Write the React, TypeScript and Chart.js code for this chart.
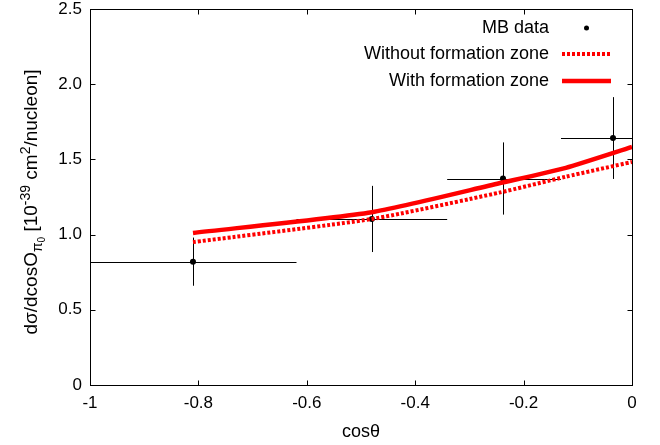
import React, { useEffect, useRef } from "react";
import { Chart, registerables } from "chart.js";

Chart.register(...registerables);

// ---- data ----
const mbX = [-0.81, -0.48, -0.238, -0.035];
const mbY = [0.82, 1.104, 1.373, 1.642];
const mbYErr = [0.16, 0.22, 0.24, 0.272];
const mbXLow = [-1, -0.619, -0.341, -0.131];
const mbXHigh = [-0.619, -0.341, -0.131, 0];

const withX = [-0.81, -0.48, -0.245, -0.122, 0];
const withY = [1.011, 1.149, 1.341, 1.444, 1.583];

const withoutX = [-0.81, -0.48, -0.245, -0.122, 0];
const withoutY = [0.95, 1.104, 1.279, 1.385, 1.483];

const xTicks = [-1, -0.8, -0.6, -0.4, -0.2, 0];
const xTickLabels = ["-1", "-0.8", "-0.6", "-0.4", "-0.2", "0"];
const yTicks = [0, 0.5, 1, 1.5, 2, 2.5];
const yTickLabels = ["0", "0.5", "1.0", "1.5", "2.0", "2.5"];

const legendLabels = ["MB data", "Without formation zone", "With formation zone"];
const xTitle = "cosθ";

const FONT = "'Liberation Sans', Arial, Helvetica, sans-serif";
const RED = "#ff0000";

const framePlugin = {
  id: "frame",
  beforeDatasetsDraw(chart: any) {
    const { ctx, chartArea: a, scales } = chart;
    const xs = scales.x, ys = scales.y;
    ctx.save();
    ctx.beginPath();
    ctx.rect(a.left, a.top, a.right - a.left, a.bottom - a.top);
    ctx.clip();
    ctx.strokeStyle = "#000";
    ctx.lineWidth = 1;
    for (let i = 0; i < mbX.length; i++) {
      const px = Math.round(xs.getPixelForValue(mbX[i])) + 0.5;
      const py = Math.round(ys.getPixelForValue(mbY[i])) + 0.5;
      ctx.beginPath();
      ctx.moveTo(xs.getPixelForValue(mbXLow[i]), py);
      ctx.lineTo(xs.getPixelForValue(mbXHigh[i]), py);
      ctx.moveTo(px, ys.getPixelForValue(mbY[i] - mbYErr[i]));
      ctx.lineTo(px, ys.getPixelForValue(mbY[i] + mbYErr[i]));
      ctx.stroke();
    }
    ctx.restore();
  },
  afterDraw(chart: any) {
    const { ctx, chartArea: a, scales } = chart;
    const xs = scales.x, ys = scales.y;
    ctx.save();
    ctx.strokeStyle = "#000";
    ctx.lineWidth = 1;
    const L = Math.round(a.left) + 0.5, R = Math.round(a.right) + 0.5;
    const T = Math.round(a.top) + 0.5, B = Math.round(a.bottom) + 0.5;
    ctx.strokeRect(L, T, R - L, B - T);
    const tl = 5;
    ctx.beginPath();
    xTicks.forEach((v) => {
      const p = Math.round(xs.getPixelForValue(v)) + 0.5;
      ctx.moveTo(p, B); ctx.lineTo(p, B - tl);
      ctx.moveTo(p, T); ctx.lineTo(p, T + tl);
    });
    yTicks.forEach((v) => {
      const p = Math.round(ys.getPixelForValue(v)) + 0.5;
      ctx.moveTo(L, p); ctx.lineTo(L + tl, p);
      ctx.moveTo(R, p); ctx.lineTo(R - tl, p);
    });
    ctx.stroke();

    // tick labels
    ctx.fillStyle = "#000";
    ctx.font = `17px ${FONT}`;
    ctx.textAlign = "center";
    ctx.textBaseline = "middle";
    xTicks.forEach((v, i) => ctx.fillText(xTickLabels[i], xs.getPixelForValue(v), a.bottom + 18));
    ctx.textAlign = "right";
    yTicks.forEach((v, i) => ctx.fillText(yTickLabels[i], a.left - 8, ys.getPixelForValue(v)));

    // x title
    ctx.font = `18px ${FONT}`;
    ctx.textAlign = "center";
    ctx.textBaseline = "middle";
    ctx.fillText(xTitle, (a.left + a.right) / 2, 432);

    // y title with sub/superscripts
    const parts: [string, number, number][] = [
      ["dσ/dcosO", 19, 0],
      ["π", 14, 5],
      ["0", 10, 8],
      [" [10", 19, 0],
      ["-39", 14, -7],
      [" cm", 19, 0],
      ["2", 14, -7],
      ["/nucleon]", 19, 0],
    ];
    let total = 0;
    parts.forEach(([t, s]) => {
      ctx.font = `${s}px ${FONT}`;
      total += ctx.measureText(t).width;
    });
    ctx.translate(31, 202);
    ctx.rotate(-Math.PI / 2);
    ctx.textAlign = "left";
    ctx.textBaseline = "alphabetic";
    let x = -total / 2;
    parts.forEach(([t, s, dy]) => {
      ctx.font = `${s}px ${FONT}`;
      ctx.fillText(t, x, 6 + dy);
      x += ctx.measureText(t).width;
    });
    ctx.restore();

    // legend
    ctx.save();
    ctx.font = `18px ${FONT}`;
    ctx.fillStyle = "#000";
    ctx.textAlign = "right";
    ctx.textBaseline = "middle";
    const rows = [28, 54, 81];
    const tx = 549, s0 = 562, s1 = 611;
    legendLabels.forEach((lab, i) => ctx.fillText(lab, tx, rows[i]));
    ctx.beginPath();
    ctx.arc((s0 + s1) / 2, rows[0], 2.5, 0, Math.PI * 2);
    ctx.fill();
    ctx.strokeStyle = RED;
    ctx.lineWidth = 4;
    ctx.setLineDash([3, 2]);
    ctx.beginPath();
    ctx.moveTo(s0, rows[1]); ctx.lineTo(s1, rows[1]);
    ctx.stroke();
    ctx.setLineDash([]);
    ctx.lineWidth = 4.5;
    ctx.beginPath();
    ctx.moveTo(s0, rows[2]); ctx.lineTo(s1, rows[2]);
    ctx.stroke();
    ctx.restore();
  },
};

export default function App() {
  const ref = useRef<HTMLCanvasElement | null>(null);
  useEffect(() => {
    if (!ref.current) return;
    const chart = new Chart(ref.current, {
      type: "scatter",
      data: {
        datasets: [
          {
            label: legendLabels[0],
            data: mbX.map((x, i) => ({ x, y: mbY[i] })),
            backgroundColor: "#000",
            borderColor: "#000",
            pointRadius: 3,
            pointBorderWidth: 0,
            showLine: false,
            order: 3,
          },
          {
            label: legendLabels[1],
            data: withoutX.map((x, i) => ({ x, y: withoutY[i] })),
            borderColor: RED,
            borderWidth: 4,
            borderDash: [3, 2],
            pointRadius: 0,
            showLine: true,
            tension: 0.2,
            order: 2,
          },
          {
            label: legendLabels[2],
            data: withX.map((x, i) => ({ x, y: withY[i] })),
            borderColor: RED,
            borderWidth: 4.5,
            pointRadius: 0,
            showLine: true,
            tension: 0.2,
            order: 1,
          },
        ],
      },
      options: {
        animation: false,
        responsive: false,
        devicePixelRatio: 1,
        layout: { padding: { top: 9, right: 28, left: 0, bottom: 0 } },
        plugins: { legend: { display: false }, tooltip: { enabled: false } },
        scales: {
          x: {
            type: "linear",
            min: -1,
            max: 0,
            grid: { display: false, drawTicks: false },
            border: { display: false },
            afterBuildTicks: (s: any) => { s.ticks = xTicks.map((v) => ({ value: v })); },
            afterFit: (s: any) => { s.height = 60; },
            ticks: { display: false },
          },
          y: {
            type: "linear",
            min: 0,
            max: 2.5,
            grid: { display: false, drawTicks: false },
            border: { display: false },
            afterBuildTicks: (s: any) => { s.ticks = yTicks.map((v) => ({ value: v })); },
            afterFit: (s: any) => { s.width = 90; },
            ticks: { display: false },
          },
        },
      },
      plugins: [framePlugin],
    });
    return () => chart.destroy();
  }, []);
  return (
    <div style={{ position: "fixed", left: 0, top: 0, width: 660, height: 445, background: "#fff" }}>
      <canvas ref={ref} width={660} height={445} />
    </div>
  );
}
